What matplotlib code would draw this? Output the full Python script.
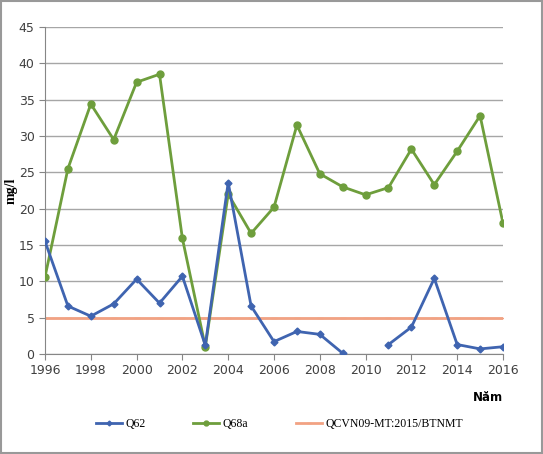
import matplotlib
matplotlib.use('Agg')
import matplotlib.pyplot as plt
import numpy as np

# so lieu doc tu hinh
years = list(range(1996, 2017))
q62 = [15.5, 6.6, 5.2, 6.9, 10.3, 7.0, 10.7, 1.2, 23.6, 6.6, 1.7, 3.1, 2.7, 0.1,
       np.nan, 1.3, 3.7, 10.4, 1.3, 0.7, 1.0]
q68a = [10.6, 25.5, 34.4, 29.5, 37.4, 38.5, 15.9, 1.0, 22.0, 16.6, 20.2, 31.5, 24.8,
        23.0, 21.9, 22.9, 28.2, 23.3, 27.9, 32.8, 18.0]
qcvn = [5.0] * len(years)

xticks = list(range(1996, 2017, 2))
yticks = list(range(0, 50, 5))

fig = plt.figure(figsize=(5.43, 4.54), dpi=100)
ax = fig.add_axes([0.0829, 0.2203, 0.8434, 0.7202])

ax.plot(years, q62, color='#3F64B0', linewidth=2, marker='D', markersize=3.5, label='Q62', zorder=4)
ax.plot(years, q68a, color='#6E9E3C', linewidth=2, marker='o', markersize=5, label='Q68a', zorder=3)
ax.plot(years, qcvn, color='#F2A283', linewidth=2, marker='_', markersize=4,
        label='QCVN09-MT:2015/BTNMT', zorder=2)

ax.set_xlim(1996, 2016)
ax.set_ylim(0, 45)
ax.set_xticks(xticks)
ax.set_yticks(yticks)
ax.yaxis.grid(True, color='#A6A6A6', linewidth=1)
ax.set_axisbelow(True)
for s in ['top', 'right']:
    ax.spines[s].set_visible(False)
ax.spines['left'].set_color('#868686')
ax.spines['bottom'].set_color('#868686')
ax.tick_params(axis='both', colors='#868686', labelcolor='#404040', labelsize=9,
               length=4, direction='out')

# nhan truc y dat rieng de khong bi cat
fig.text(0.02, 0.58, 'mg/l', fontsize=10, fontweight='bold', family='Liberation Serif',
         rotation=90, ha='center', va='center')
fig.text(0.926, 0.125, 'Năm', fontsize=8.5, fontweight='bold', ha='right', va='center')

fig.legend(loc='center', bbox_to_anchor=(0.515, 0.066), ncol=3, frameon=False,
           prop={'family': 'Liberation Serif', 'size': 8.5}, handlelength=2.2,
           handletextpad=0.3, columnspacing=4, markerscale=0.7)

fig.patches.append(plt.Rectangle((0.002, 0.002), 0.996, 0.996, transform=fig.transFigure,
                                 fill=False, edgecolor='#999999', linewidth=1.5))

fig.savefig('out.png', dpi=100)
